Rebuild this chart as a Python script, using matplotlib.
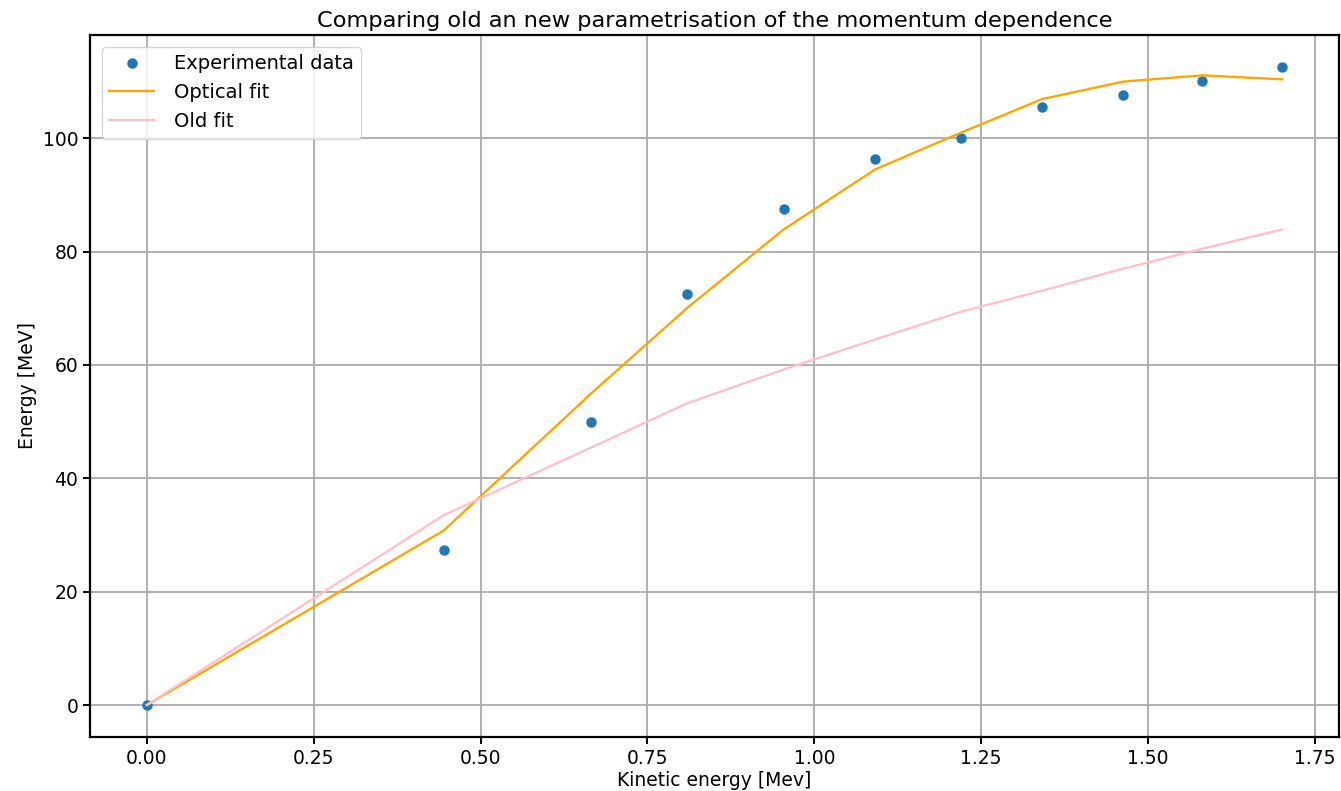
import matplotlib
matplotlib.use("Agg")
import matplotlib.pyplot as plt

# Kinetic energy values [MeV]
kinetic = [0.0, 0.445, 0.665, 0.809, 0.954, 1.091, 1.220, 1.341, 1.463, 1.581, 1.701]
# Measured energies [MeV]
experimental = [0.0, 27.4, 50.0, 72.6, 87.6, 96.3, 100.0, 105.5, 107.6, 110.1, 112.6]
# New optical-model fit evaluated at the same points
optical_fit = [0.0, 30.8, 54.9, 70.0, 83.9, 94.5, 101.0, 106.9, 110.0, 111.1, 110.4]
# Previous parametrisation
old_fit = [0.0, 33.5, 45.4, 53.2, 59.2, 64.5, 69.4, 73.1, 77.0, 80.5, 83.9]

plt.rcParams["font.family"] = ["DejaVu Sans"]
plt.rcParams["font.size"] = 13.5

fig = plt.figure(figsize=(13.41, 7.91), dpi=100)
ax = fig.add_axes([0.0671, 0.0683, 0.9314, 0.8875])

ax.plot(kinetic, experimental, "o", color="#1f77b4", markersize=6.5,
        label="Experimental data")
ax.plot(kinetic, optical_fit, color="orange", linewidth=1.7, label="Optical fit")
ax.plot(kinetic, old_fit, color="pink", linewidth=1.7, label="Old fit")

ax.set_title("Comparing old an new parametrisation of the momentum dependence",
             pad=6)
ax.set_xlabel("Kinetic energy [Mev]", labelpad=2)
ax.set_ylabel("Energy [MeV]")
ax.set_xticks([0.0, 0.25, 0.5, 0.75, 1.0, 1.25, 1.5, 1.75])
ax.set_yticks([0, 20, 40, 60, 80, 100])
ax.grid(True, color="#b0b0b0", linewidth=1.4)
for s in ax.spines.values():
    s.set_linewidth(1.6)
ax.tick_params(width=1.4, length=5)

ax.legend(loc="upper left", fontsize=14, handlelength=2.3,
          handletextpad=1.0, borderaxespad=0.6)

fig.savefig("out.png", dpi=100)
